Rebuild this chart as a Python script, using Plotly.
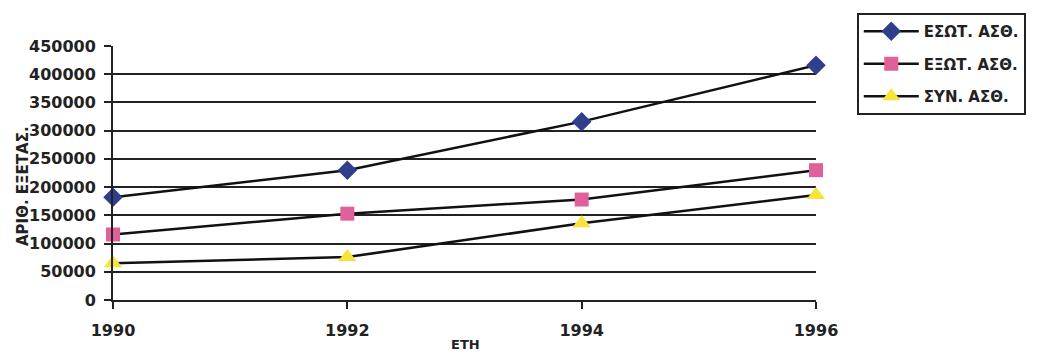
import plotly.graph_objects as go

years = [1990, 1992, 1994, 1996]
esot = [182000, 230000, 316000, 416000]
exot = [116000, 153000, 178000, 230000]
syn = [65000, 76000, 136000, 186000]

series_names = ["ΕΣΩΤ. ΑΣΘ.", "ΕΞΩΤ. ΑΣΘ.", "ΣΥΝ. ΑΣΘ."]
y_ticks = list(range(0, 450001, 50000))

font_family = "DejaVu Sans, sans-serif"
ink = "#222222"

fig = go.Figure()
styles = [
    ("diamond", "#2f3f8c", 15),
    ("square", "#e0609a", 14),
    ("triangle-up", "#f7e33a", 16),
]
for i, (name, vals, (sym, col, sz)) in enumerate(zip(series_names, [esot, exot, syn], styles)):
    fig.add_trace(go.Scatter(
        x=years, y=vals, name=f"<b>{name}</b>", mode="lines+markers",
        legendgroup=f"g{i}",
        line=dict(color="#111111", width=2.5),
        marker=dict(symbol=sym, color=col, size=sz, line=dict(width=0)),
        cliponaxis=False,
    ))

fig.update_layout(
    width=1045, height=355,
    margin=dict(l=113, r=229, t=46, b=55),
    paper_bgcolor="white", plot_bgcolor="white",
    font=dict(family=font_family, size=16, color=ink),
    showlegend=True,
    legend=dict(
        x=1.058, y=1.13, xanchor="left", yanchor="top",
        bordercolor=ink, borderwidth=2, bgcolor="white",
        font=dict(family=font_family, size=15, color=ink),
        itemwidth=55, tracegroupgap=10,
    ),
    xaxis=dict(
        range=[1990, 1996], tickvals=years, ticktext=[f"<b>{y}</b>" for y in years],
        showgrid=False, zeroline=False, showline=True, linecolor=ink, linewidth=2,
        ticks="outside", ticklen=7, tickwidth=2, tickcolor=ink,
        tickfont=dict(size=16), ticklabelstandoff=8, automargin=False,
    ),
    yaxis=dict(
        range=[0, 450000], tickvals=y_ticks, ticktext=[f"<b>{v}</b>" for v in y_ticks],
        showgrid=True, gridcolor=ink, gridwidth=2,
        zeroline=False, showline=True, linecolor=ink, linewidth=2,
        ticks="outside", ticklen=7, tickwidth=2, tickcolor=ink,
        tickfont=dict(size=16), ticklabelstandoff=5, automargin=False,
    ),
    annotations=[
        dict(
            text="<b>ΑΡΙΘ. ΕΞΕΤΑΣ.</b>", textangle=-90, xref="paper", yref="paper",
            x=-0.129, y=0.45, xanchor="center", yanchor="middle", showarrow=False,
            font=dict(family=font_family, size=15, color=ink),
        ),
        dict(
            text="<b>ΕΤΗ</b>", xref="paper", yref="paper",
            x=(465 - 113) / 703, y=-0.175, xanchor="center", yanchor="middle",
            showarrow=False, font=dict(family=font_family, size=13, color=ink),
        ),
    ],
)

fig.write_html("out.html")
